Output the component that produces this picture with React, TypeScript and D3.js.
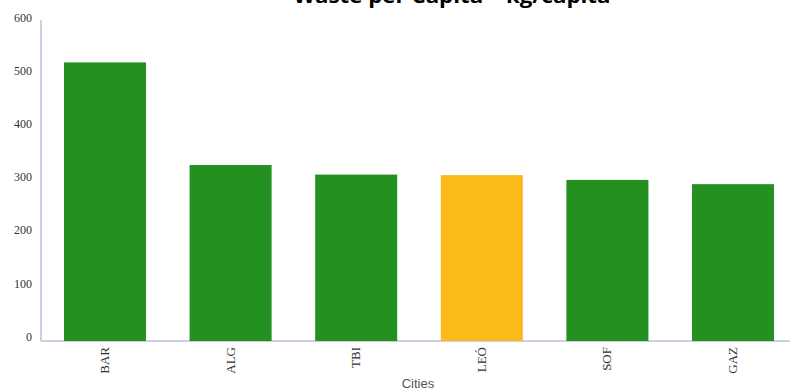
import React from "react";
import * as d3 from "d3";

const cities = ["BAR", "ALG", "TBI", "LEÓ", "SOF", "GAZ"];
const wastePerCapita = [524, 331, 313, 312, 303, 295];
const highlight = ["LEÓ"];
const yTicks = [0, 100, 200, 300, 400, 500, 600];
const title = "Waste per Capita – kg/capita";
const xTitle = "Cities";

const W = 790;
const H = 390;

export default function App() {
  const x = d3.scaleBand<string>().domain(cities).range([41, 797]).paddingInner(0.347).paddingOuter(0.183);
  const y = d3.scaleLinear().domain([0, 600]).range([341, 22]);
  const green = "#23901f";
  const yellow = "#fcb91a";
  const axisColor = "#b8c2dc";
  return (
    <svg width={W} height={H} style={{ position: "absolute", left: 0, top: 0, background: "#fff" }}>
      <text x={452} y={3} textAnchor="middle" fontFamily="'Open Sans', sans-serif" fontWeight="bold" fontSize={20} textLength={317} lengthAdjust="spacingAndGlyphs" fill="#000">{title}</text>
      {yTicks.map((t) => (
        <text key={t} x={32} y={y(t) - 3} textAnchor="end" dominantBaseline="middle" fontFamily="'Liberation Serif', serif" fontSize={12} fill="#333">{t}</text>
      ))}
      <line x1={41} x2={41} y1={y(600) - 2} y2={y(0)} stroke={axisColor} strokeWidth={1.5} />
      <line x1={41} x2={790} y1={y(0)} y2={y(0)} stroke={axisColor} strokeWidth={1.5} />
      {cities.map((c, i) => (
        <rect key={c} x={x(c)!} width={x.bandwidth()} y={y(wastePerCapita[i])} height={y(0) - y(wastePerCapita[i])} fill={highlight.includes(c) ? yellow : green} />
      ))}
      {cities.map((c) => (
        <text key={c} transform={`translate(${x(c)! + x.bandwidth() / 2 + 4},${347}) rotate(-90)`} textAnchor="end" fontFamily="'Liberation Serif', serif" fontSize={13} fill="#333">{c}</text>
      ))}
      <text x={418} y={388} textAnchor="middle" fontFamily="'Liberation Sans', Arial, sans-serif" fontSize={13} fill="#555">{xTitle}</text>
    </svg>
  );
}
